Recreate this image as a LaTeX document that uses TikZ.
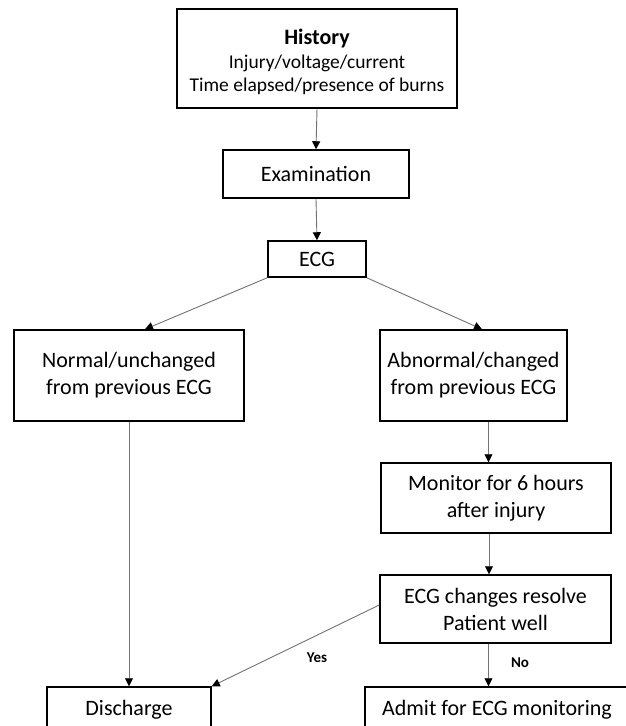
\documentclass[tikz,border=0pt]{standalone}
\usepackage{fontspec}
\setmainfont{Carlito}
\usetikzlibrary{arrows.meta}
\begin{document}
\begin{tikzpicture}[x=1pt,y=-1pt,
  box/.style={draw=black, line width=1.5pt, align=center, inner sep=0pt,
    font=\fontsize{22}{27}\selectfont},
  arr/.style={draw=black!55, line width=0.9pt, -{Triangle[width=8pt,length=8pt,color=black]}},
  lab/.style={font=\fontsize{15}{17}\selectfont\bfseries, inner sep=0pt}]
\clip (0,0) rectangle (626,726);
\fill[white] (0,0) rectangle (626,726);
\node[box, minimum width=280, minimum height=99, font=\fontsize{19.5}{23.5}\selectfont] (hist) at (317,58.5)
  {\rule{0pt}{22.5pt}{\fontsize{22}{25}\selectfont\bfseries History}\\Injury/voltage/current\\Time elapsed/presence of burns};
\node[box, minimum width=186, minimum height=48] (exam) at (316,174) {Examination};
\node[box, minimum width=98, minimum height=36] (ecg) at (317,259) {ECG};
\node[box, minimum width=230, minimum height=91] (norm) at (129,375.5) {Normal/unchanged\\from previous ECG};
\node[box, minimum width=187, minimum height=91] (abn) at (473.5,375.5) {Abnormal/changed\\from previous ECG};
\node[box, minimum width=230, minimum height=70] (mon) at (496,498) {Monitor for 6 hours\\after injury};
\node[box, minimum width=231, minimum height=68] (res) at (495.5,609) {ECG changes resolve\\Patient well};
\node[box, minimum width=164, minimum height=46] (dis) at (129,710) {Discharge};
\node[box, minimum width=264, minimum height=46] (adm) at (497,710) {Admit for ECG monitoring};
\draw[arr] (hist.south) -- (exam.north);
\draw[arr] (exam.south) -- (ecg.north);
\draw[arr] (ecg.south west) -- ([xshift=16pt]norm.north);
\draw[arr] (ecg.south east) -- ([xshift=8.5pt]abn.north);
\draw[arr] (norm.south) -- (dis.north);
\draw[arr] ([xshift=15pt]abn.south) -- ([xshift=15pt]abn.south |- mon.north);
\draw[arr] ([xshift=-7pt]mon.south) -- ([xshift=-7pt]mon.south |- res.north);
\draw[arr] ([yshift=4pt]res.west) -- (dis.north east);
\draw[arr] ([xshift=-7pt]res.south) -- ([xshift=-7pt]res.south |- adm.north);
\node[lab] (yes) at (317,658) {Yes};
\node[lab] (no) at (520,663) {No};
\end{tikzpicture}
\end{document}
